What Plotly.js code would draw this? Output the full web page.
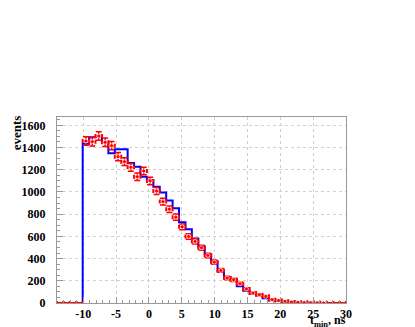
<!DOCTYPE html>
<html>
<head>
<meta charset="utf-8">
<script src="https://cdn.plot.ly/plotly-3.0.1.min.js"></script>
<style>
  html, body { margin: 0; padding: 0; background: #fff; }
  #plot { width: 415px; height: 327px; }
</style>
</head>
<body>
<div id="plot"></div>
<script>
// histogram: 45 bins from -14 to 30 ns
let xLow = -14;
let xHigh = 30;
let nBins = 45;

// measured data (red points with errors)
let dataCounts = [0, 0, 0, 0, 1459, 1453, 1504, 1447, 1417, 1318, 1273, 1222, 1138, 1189, 1099,
  1009, 913, 845, 773, 686, 599, 554, 497, 428, 368, 293, 225, 209, 173, 126,
  90, 75, 60, 30, 22, 15, 10, 6, 4, 3, 2, 1, 0, 0, 0];

// simulation (blue step line)
let simCounts = [0, 0, 0, 0, 1435, 1492, 1500, 1447, 1348, 1384, 1384, 1260, 1228, 1138, 1108,
  1048, 994, 922, 854, 728, 665, 580, 512, 440, 374, 284, 234, 216, 150, 110,
  84, 69, 42, 25, 18, 12, 8, 5, 3, 2, 1, 1, 0, 0, 0];

let xTicks = [-10, -5, 0, 5, 10, 15, 20, 25, 30];
let yTicks = [0, 200, 400, 600, 800, 1000, 1200, 1400, 1600];

let binWidth = (xHigh - xLow) / nBins;
let edges = [];
for (let i = 0; i <= nBins; i++) edges.push(xLow + i * binWidth);
let centers = edges.slice(0, nBins).map(e => e + binWidth / 2);

let simY = simCounts.concat([simCounts[nBins - 1]]);

let serif = 'Liberation Serif, Times New Roman, serif';
let font = {family: serif, size: 12, color: '#000', weight: 'bold'};

let sim = {
  x: edges,
  y: simY,
  type: 'scatter',
  mode: 'lines',
  line: {shape: 'hv', color: 'rgb(0,0,255)', width: 2},
  hoverinfo: 'skip'
};

let meas = {
  x: centers,
  y: dataCounts,
  type: 'scatter',
  mode: 'markers',
  marker: {color: 'rgb(255,0,0)', size: dataCounts.map(v => v > 0 ? 4 : 0), symbol: 'circle'},
  error_y: {type: 'data', array: dataCounts.map(v => Math.sqrt(v)), color: 'rgb(255,0,0)', thickness: 1.5, width: 3},
  error_x: {type: 'constant', value: binWidth / 2, color: 'rgb(255,0,0)', thickness: 2, width: 2}
};

let layout = {
  width: 415,
  height: 327,
  margin: {l: 57, r: 69, t: 117, b: 24},
  paper_bgcolor: '#fff',
  plot_bgcolor: '#fff',
  showlegend: false,
  font: font,
  xaxis: {
    range: [xLow, xHigh],
    tickvals: xTicks,
    ticktext: xTicks.map(String),
    ticks: 'inside',
    ticklen: 6,
    tickcolor: '#999',
    minor: {ticks: 'inside', dtick: 1, ticklen: 3, tickcolor: '#999', showgrid: false},
    showgrid: true,
    gridcolor: '#d0d0d0',
    griddash: 'dot',
    zeroline: false,
    showline: true,
    linecolor: '#999',
    mirror: true,
    tickfont: font,
    ticklabelstandoff: 0
  },
  yaxis: {
    range: [0, 1675],
    tickvals: yTicks,
    ticktext: yTicks.map(String),
    ticks: 'inside',
    ticklen: 6,
    tickcolor: '#999',
    minor: {ticks: 'inside', dtick: 50, ticklen: 3, tickcolor: '#999', showgrid: false},
    showgrid: true,
    gridcolor: '#d0d0d0',
    griddash: 'dot',
    zeroline: false,
    showline: true,
    linecolor: '#999',
    mirror: true,
    tickfont: font,
    ticklabelstandoff: 8
  },
  annotations: [
    {
      text: 'events', xref: 'paper', yref: 'paper', x: -0.173, y: 1.02,
      xanchor: 'left', yanchor: 'top', textangle: -90, showarrow: false,
      font: {family: serif, size: 13, color: '#000'}
    },
    {
      text: 't<sub>min</sub>, ns', xref: 'paper', yref: 'paper', x: 1.007, y: 0, yshift: -8,
      xanchor: 'right', yanchor: 'top', showarrow: false,
      font: {family: serif, size: 12, color: '#000', weight: 'bold'}
    }
  ]
};

Plotly.newPlot('plot', [sim, meas], layout, {displayModeBar: false, staticPlot: true});
</script>
</body>
</html>
